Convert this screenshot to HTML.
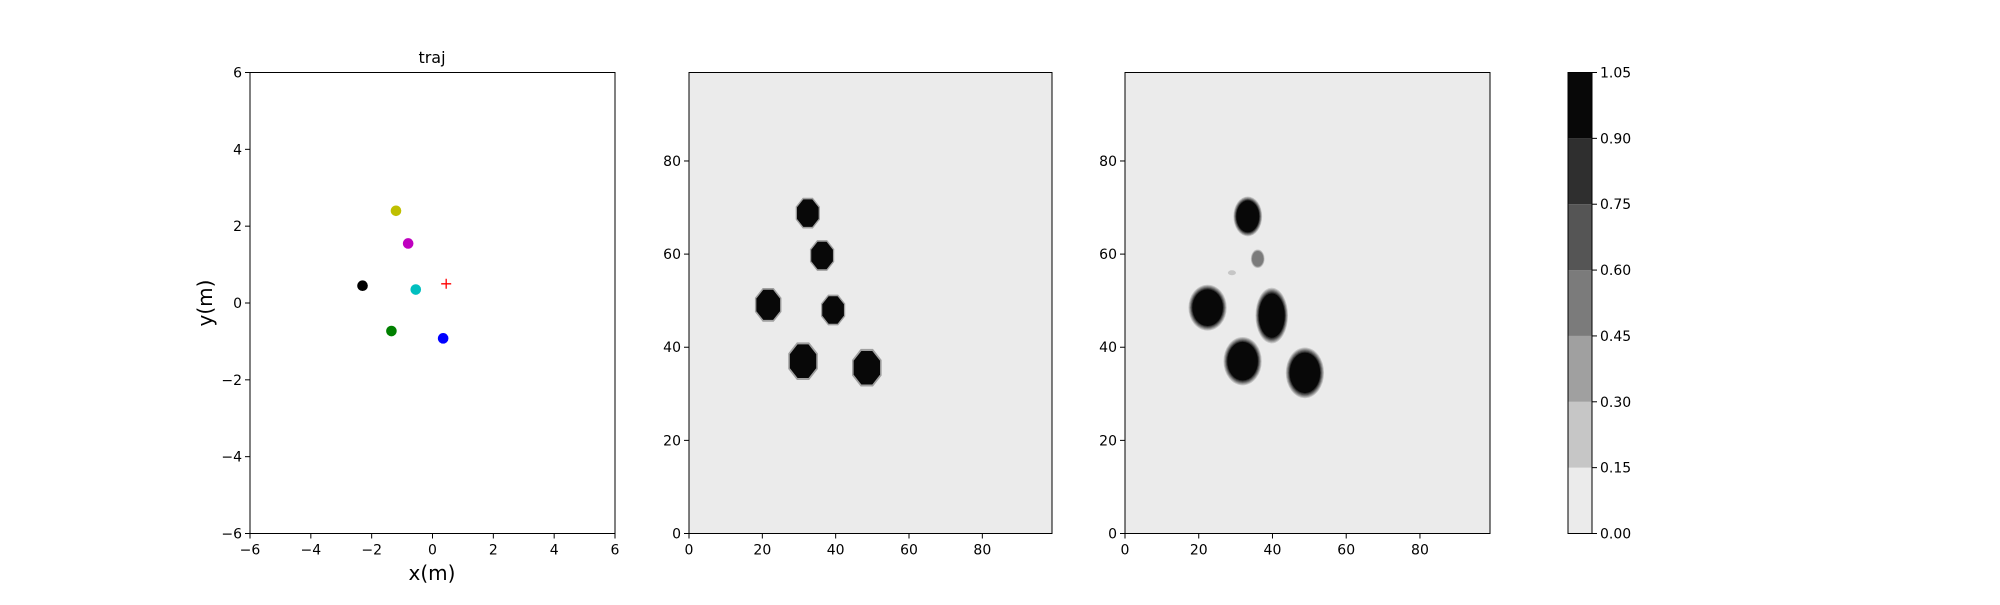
<!DOCTYPE html>
<html><head><meta charset="utf-8"><style>
html,body{margin:0;padding:0;background:#fff;}
svg text{font-family:"DejaVu Sans","Liberation Sans",sans-serif;fill:#000;}
</style></head><body>
<svg id="fig" width="2000" height="600" viewBox="0 0 2000 600" xmlns="http://www.w3.org/2000/svg">
<rect width="2000" height="600" fill="#fff"/>
<g id="p1"></g>
<g id="p2"></g>
<g id="p3"></g>
<g id="cb"></g>
</svg>
<script>
// traj scatter data
const trajX = [-1.2, -0.8, -2.3, -0.55, -1.35, 0.35];
const trajY = [2.4, 1.55, 0.45, 0.35, -0.73, -0.92];
const trajColors = ['#bfbf00', '#bf00bf', '#000000', '#00bfbf', '#008000', '#0000ff'];
const goalX = [0.45];
const goalY = [0.5];
const trajTicks = [-6, -4, -2, 0, 2, 4, 6];
// map 1 blobs
const m1X = [32.4, 36.3, 21.6, 39.3, 31.1, 48.5];
const m1Y = [68.8, 59.7, 49.1, 48.0, 37.0, 35.6];
const m1R = [3.2, 3.2, 3.5, 3.2, 3.9, 3.9];
// map 2 blobs
const m2X = [33.3, 36.0, 29.0, 22.4, 39.8, 31.9, 48.8];
const m2Y = [68.1, 59.0, 56.0, 48.5, 46.8, 37.0, 34.5];
const m2RX = [3.0, 1.5, 1.0, 4.0, 3.4, 4.0, 4.0];
const m2RY = [3.3, 1.6, 0.5, 3.8, 4.6, 4.0, 4.2];
const m2Peak = [1.0, 0.5, 0.2, 1.0, 1.0, 1.0, 1.0];
const mapTicks = [0, 20, 40, 60, 80];
const cbLevels = [0, 0.15, 0.30, 0.45, 0.60, 0.75, 0.90, 1.05];
const cbLabels = ['0.00','0.15','0.30','0.45','0.60','0.75','0.90','1.05'];
const cbColors = ['#ebebeb','#c6c6c6','#a0a0a0','#7b7b7b','#555555','#2f2f2f','#080808'];

const NS='http://www.w3.org/2000/svg';
function mk(tag, attrs, parent){const e=document.createElementNS(NS,tag);for(const k in attrs)e.setAttribute(k,attrs[k]);parent.appendChild(e);return e;}
const TOP=72.5, BOT=533.5;
function axes(g,x0,x1,xmin,xmax,ymin,ymax,xt,yt,fmt){
  const sx=v=>x0+(v-xmin)/(xmax-xmin)*(x1-x0);
  const sy=v=>BOT-(v-ymin)/(ymax-ymin)*(BOT-TOP);
  return {sx,sy,draw(){
    xt.forEach(t=>{const X=sx(t);
      const l=mk('line',{x1:X,x2:X,y1:BOT,y2:BOT+5,stroke:'#000','stroke-width':1},g);
      
      const tx=mk('text',{x:X,y:BOT+21,'text-anchor':'middle','font-size':14},g);tx.textContent=fmt(t);
      });
    yt.forEach(t=>{const Y=sy(t);
      const l=mk('line',{x1:x0-5,x2:x0,y1:Y,y2:Y,stroke:'#000','stroke-width':1},g);
      
      const tx=mk('text',{x:x0-8,y:Y+5,'text-anchor':'end','font-size':14},g);tx.textContent=fmt(t);
      });
    const f=mk('rect',{x:x0,y:TOP,width:x1-x0,height:BOT-TOP,fill:'none',stroke:'#000','stroke-width':1},g);
    
  }};
}
const fmtm=t=>String(t).replace('-','\u2212');
// Panel 1
const g1=document.getElementById('p1');
const a1=axes(g1,250,615,-6,6,-6,6,trajTicks,trajTicks,fmtm);
trajX.forEach((x,i)=>{const c=mk('circle',{cx:a1.sx(x),cy:a1.sy(trajY[i]),r:5.3,fill:trajColors[i]},g1);
  });
goalX.forEach((x,i)=>{const X=a1.sx(x),Y=a1.sy(goalY[i]);
  const p=mk('path',{d:`M${X-5},${Y}H${X+5}M${X},${Y-5}V${Y+5}`,stroke:'#ff0000','stroke-width':1.3},g1);
  });
a1.draw();
let t=mk('text',{x:432,y:63,'text-anchor':'middle','font-size':16},g1);t.textContent='traj';

t=mk('text',{x:432,y:580,'text-anchor':'middle','font-size':20},g1);t.textContent='x(m)';

t=mk('text',{x:0,y:0,'text-anchor':'middle','font-size':20,transform:'translate(212,303) rotate(-90)'},g1);t.textContent='y(m)';

// Panel 2
const g2=document.getElementById('p2');
const a2=axes(g2,689,1052,0,99,0,99,mapTicks,mapTicks,String);
let bg=mk('rect',{x:689,y:TOP,width:363,height:BOT-TOP,fill:'#ebebeb'},g2);

m1X.forEach((x,i)=>{
  [[1.12,'#a0a0a0'],[1.0,'#080808']].forEach(([k,col])=>{
    const pts=[];for(let j=0;j<8;j++){const a=(j+0.5)*Math.PI/4;
      pts.push(a2.sx(x+Math.cos(a)*m1R[i]*k)+','+a2.sy(m1Y[i]+Math.sin(a)*m1R[i]*k));}
    const p=mk('polygon',{points:pts.join(' '),fill:col},g2);
    });
});
a2.draw();
// Panel 3
const g3=document.getElementById('p3');
const a3=axes(g3,1125,1490,0,99,0,99,mapTicks,mapTicks,String);
bg=mk('rect',{x:1125,y:TOP,width:365,height:BOT-TOP,fill:'#ebebeb'},g3);

const px=365/99, py=(BOT-TOP)/99;
m2X.forEach((x,i)=>{
  const layers=[];
  for(let L=1;L<cbColors.length;L++){const lv=cbLevels[L];if(lv<m2Peak[i]+0.001){layers.push([L,1.35-0.35*(lv/ m2Peak[i])]);}}
  layers.forEach(([L,k])=>{
    const e=mk('ellipse',{cx:a3.sx(x),cy:a3.sy(m2Y[i]),rx:m2RX[i]*px*k,ry:m2RY[i]*py*k,fill:cbColors[L]},g3);
    });
});
a3.draw();
// Colorbar
const gc=document.getElementById('cb');
const cx0=1568,cx1=1592;
const cy=v=>BOT-(v-cbLevels[0])/(cbLevels[cbLevels.length-1]-cbLevels[0])*(BOT-TOP);
cbColors.forEach((c,i)=>{const r=mk('rect',{x:cx0,y:cy(cbLevels[i+1]),width:cx1-cx0,height:cy(cbLevels[i])-cy(cbLevels[i+1]),fill:c},gc);
  });
cbLevels.forEach((v,i)=>{const Y=cy(v);
  const l=mk('line',{x1:cx1,x2:cx1+5,y1:Y,y2:Y,stroke:'#000'},gc);
  
  const tx=mk('text',{x:cx1+8,y:Y+5,'font-size':14},gc);tx.textContent=cbLabels[i];
  });
const cf=mk('rect',{x:cx0,y:TOP,width:cx1-cx0,height:BOT-TOP,fill:'none',stroke:'#000'},gc);

</script>
</body></html>
